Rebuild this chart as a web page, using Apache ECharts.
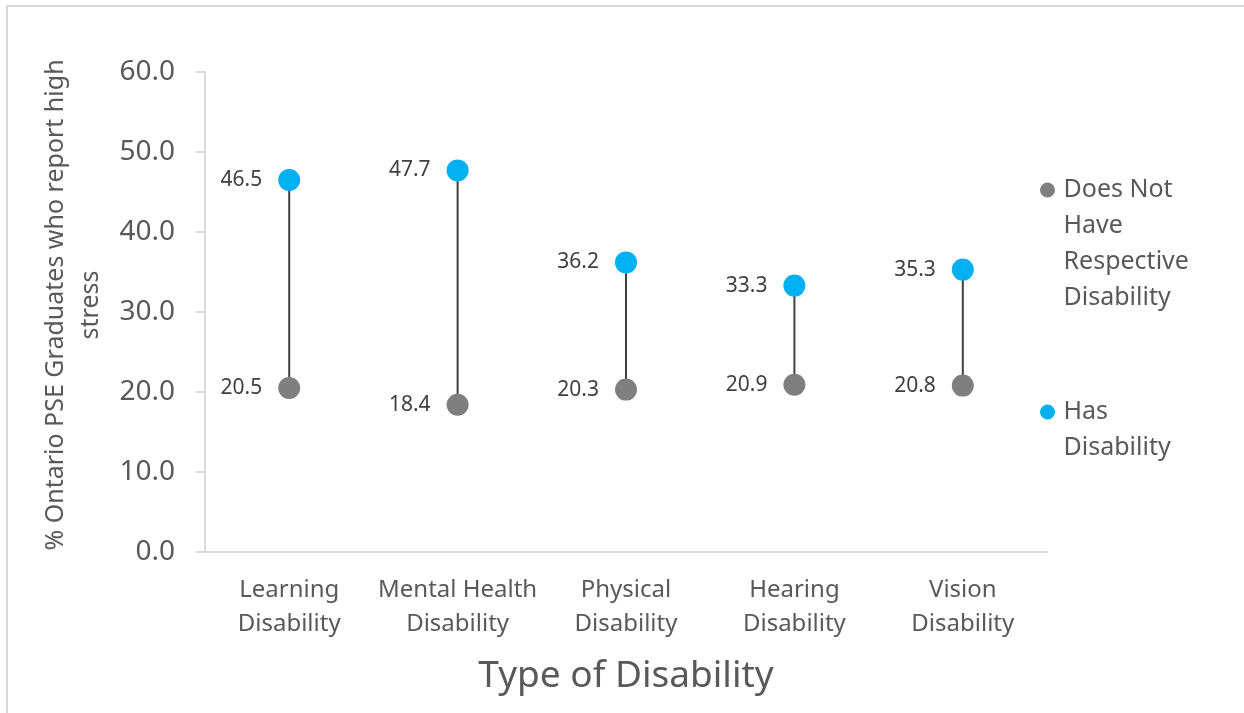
<!DOCTYPE html>
<html>
<head>
<meta charset="utf-8">
<script src="https://cdn.jsdelivr.net/npm/echarts@6/dist/echarts.min.js"></script>
<style>
  html, body { margin: 0; padding: 0; background: #fff; overflow: hidden; }
  #frame { position: absolute; left: 6px; top: 5px; width: 1300px; height: 800px; border: 2px solid #d9d9d9; box-sizing: border-box; }
  #chart { position: absolute; left: 0; top: 0; width: 1244px; height: 713px; }
</style>
</head>
<body>
<div id="frame"></div>
<div id="chart"></div>
<script>
// Disability types along the horizontal axis
const categories = [
  'Learning\nDisability',
  'Mental Health\nDisability',
  'Physical\nDisability',
  'Hearing\nDisability',
  'Vision\nDisability'
];
// % reporting high stress, graduates without the respective disability
const withoutDisability = [20.5, 18.4, 20.3, 20.9, 20.8];
// % reporting high stress, graduates with the disability
const withDisability = [46.5, 47.7, 36.2, 33.3, 35.3];
// Value axis ticks
const yTicks = [0, 10, 20, 30, 40, 50, 60];

const seriesNames = ['Does Not Have Respective Disability', 'Has Disability'];
const legendText = {
  'Does Not Have Respective Disability': 'Does Not\nHave\nRespective\nDisability',
  'Has Disability': 'Has\nDisability'
};

const FONT = '"Noto Sans", "Open Sans", sans-serif';
const GRAY = '#7f7f7f';
const BLUE = '#00b0f0';
const LEGEND_LINE = 36;

const chart = echarts.init(document.getElementById('chart'), null, { renderer: 'canvas' });

// Legend marker: a 15px dot placed beside the first text line of a
// multi-line entry; two tiny anchors stretch the path box to the text height.
function legendIcon(lines) {
  const h = lines * LEGEND_LINE;
  const cy = LEGEND_LINE / 2;
  return 'path://M7,0 L8,0 Z ' +
    'M0,' + cy + ' A7.5,7.5 0 1,1 15,' + cy + ' A7.5,7.5 0 1,1 0,' + cy + ' Z ' +
    'M7,' + h + ' L8,' + h + ' Z';
}

function legendFor(name, top, lines) {
  return {
    orient: 'vertical',
    left: 1040,
    top: top,
    padding: 0,
    itemWidth: 22,
    itemHeight: lines * LEGEND_LINE,
    icon: legendIcon(lines),
    selectedMode: false,
    data: [name],
    formatter: n => legendText[n],
    textStyle: {
      fontFamily: FONT,
      fontSize: 25,
      color: '#595959',
      lineHeight: LEGEND_LINE
    }
  };
}

const valueLabel = {
  show: true,
  position: 'left',
  distance: 16,
  color: '#404040',
  fontFamily: FONT,
  fontSize: 21,
  formatter: p => p.value.toFixed(1)
};

chart.setOption({
  backgroundColor: 'transparent',
  animation: false,
  grid: { left: 205, right: 197, top: 72, bottom: 161, containLabel: false },
  legend: [
    legendFor(seriesNames[0], 172, 4),
    legendFor(seriesNames[1], 394, 2)
  ],
  xAxis: {
    type: 'category',
    data: categories,
    boundaryGap: true,
    axisLine: { lineStyle: { color: '#d9d9d9', width: 2 } },
    axisTick: { show: false },
    axisLabel: {
      color: '#595959',
      fontFamily: FONT,
      fontSize: 24,
      lineHeight: 34,
      margin: 21,
      interval: 0
    },
    name: 'Type of Disability',
    nameLocation: 'middle',
    nameGap: 106,
    nameTextStyle: { color: '#595959', fontFamily: FONT, fontSize: 37 }
  },
  yAxis: {
    type: 'value',
    min: yTicks[0],
    max: yTicks[yTicks.length - 1],
    interval: yTicks[1] - yTicks[0],
    splitLine: { show: false },
    axisLine: { show: true, lineStyle: { color: '#d9d9d9', width: 2 } },
    axisTick: { show: true, length: 9, lineStyle: { color: '#d9d9d9', width: 2 } },
    axisLabel: {
      color: '#595959',
      fontFamily: FONT,
      fontSize: 28,
      margin: 30,
      formatter: v => v.toFixed(1)
    },
    name: '% Ontario PSE Graduates who report high\nstress',
    nameLocation: 'middle',
    nameRotate: 90,
    nameGap: 96,
    nameTextStyle: {
      color: '#595959', fontFamily: FONT, fontSize: 25, lineHeight: 35,
      padding: [0, 0, 0, 14]
    }
  },
  series: [
    {
      // vertical connector between the two values of each category
      type: 'custom',
      name: 'range',
      silent: true,
      z: 1,
      data: categories.map((c, i) => [i, withoutDisability[i], withDisability[i]]),
      encode: { x: 0, y: [1, 2] },
      renderItem: (params, api) => {
        const a = api.coord([api.value(0), api.value(1)]);
        const b = api.coord([api.value(0), api.value(2)]);
        return {
          type: 'line',
          shape: { x1: a[0], y1: a[1], x2: b[0], y2: b[1] },
          style: { stroke: '#404040', lineWidth: 2 }
        };
      }
    },
    {
      type: 'scatter',
      name: seriesNames[0],
      data: withoutDisability,
      symbol: 'circle',
      symbolSize: 22,
      z: 3,
      itemStyle: { color: GRAY, opacity: 1 },
      label: valueLabel
    },
    {
      type: 'scatter',
      name: seriesNames[1],
      data: withDisability,
      symbol: 'circle',
      symbolSize: 22,
      z: 3,
      itemStyle: { color: BLUE, opacity: 1 },
      label: valueLabel
    }
  ]
});
</script>
</body>
</html>
